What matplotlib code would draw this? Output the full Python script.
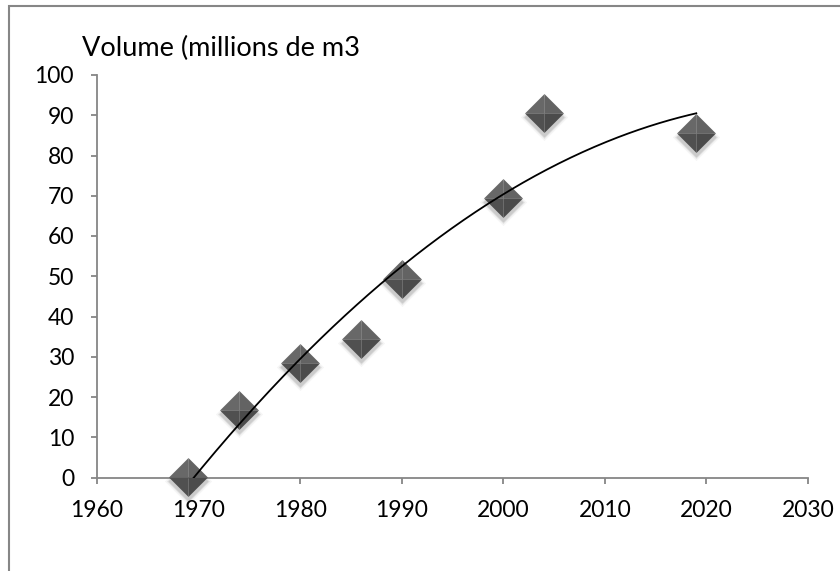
import numpy as np
import matplotlib
matplotlib.use("Agg")
import matplotlib.pyplot as plt
from matplotlib.patches import Rectangle
from matplotlib.transforms import offset_copy

# Data
years = [1969, 1974, 1980, 1986, 1990, 2000, 2004, 2019]
volumes = [0.2, 16.8, 28.4, 34.3, 49.2, 69.4, 90.5, 85.5]
x_ticks = [1960, 1970, 1980, 1990, 2000, 2010, 2020, 2030]
y_ticks = [0, 10, 20, 30, 40, 50, 60, 70, 80, 90, 100]
y_title = "Volume (millions de m3"

plt.rcParams['font.family'] = ['Lato', 'DejaVu Sans']

fig = plt.figure(figsize=(8.4, 5.71), dpi=100)
W, H = 840, 571
ax = fig.add_axes([97 / W, 1 - 477.5 / H, (808 - 97) / W, (477.5 - 75) / H])
ax.set_xlim(1960, 2030)
ax.set_ylim(0, 100)

gray = '#868686'
for s in ['top', 'right']:
    ax.spines[s].set_visible(False)
for s in ['left', 'bottom']:
    ax.spines[s].set_color(gray)
    ax.spines[s].set_linewidth(1.3)
ax.set_xticks(x_ticks)
ax.set_yticks(y_ticks)
ax.tick_params(axis='both', direction='out', length=4.5, width=1.3, color=gray,
               labelsize=16.5, labelcolor='black', pad=12)

# Shadow
shadow_tr = offset_copy(ax.transData, fig=fig, x=0, y=-4, units='dots')
diamond = [(0, 1), (1, 0), (0, -1), (-1, 0)]
for ms, a in [(34, 0.04), (31, 0.07), (29, 0.10)]:
    ax.scatter(years, volumes, marker=diamond, s=ms**2, color='#000000', alpha=a,
               linewidths=0, transform=shadow_tr, zorder=2, clip_on=False)

# Beveled diamond facets
facets = [
    ([(0, 0), (-1, 0), (0, 1)], '#686868'),   # top-left
    ([(0, 0), (0, 1), (1, 0)], '#636363'),    # top-right
    ([(0, 0), (1, 0), (0, -1)], '#4b4b4b'),   # bottom-right
    ([(0, 0), (0, -1), (-1, 0)], '#505050'),  # bottom-left
]
for verts, c in facets:
    ax.scatter(years, volumes, marker=verts, s=28**2, color=c, linewidths=0,
               zorder=3, clip_on=False)

# Polynomial (order 2) trendline
coef = np.polyfit(years, volumes, 2)
xs = np.linspace(min(years), max(years), 300)
ax.plot(xs, np.polyval(coef, xs), color='black', lw=1.3, zorder=4)

fig.text(82 / W, 1 - 48 / H, y_title, fontsize=19.5, ha='left', va='center')

# Chart-area border
fig.patches.append(Rectangle((9 / W, -0.1), 1.2, 1 - 6 / H + 0.1, transform=fig.transFigure,
                             fill=False, edgecolor=gray, lw=1.5))

fig.savefig('out.png', dpi=100)
